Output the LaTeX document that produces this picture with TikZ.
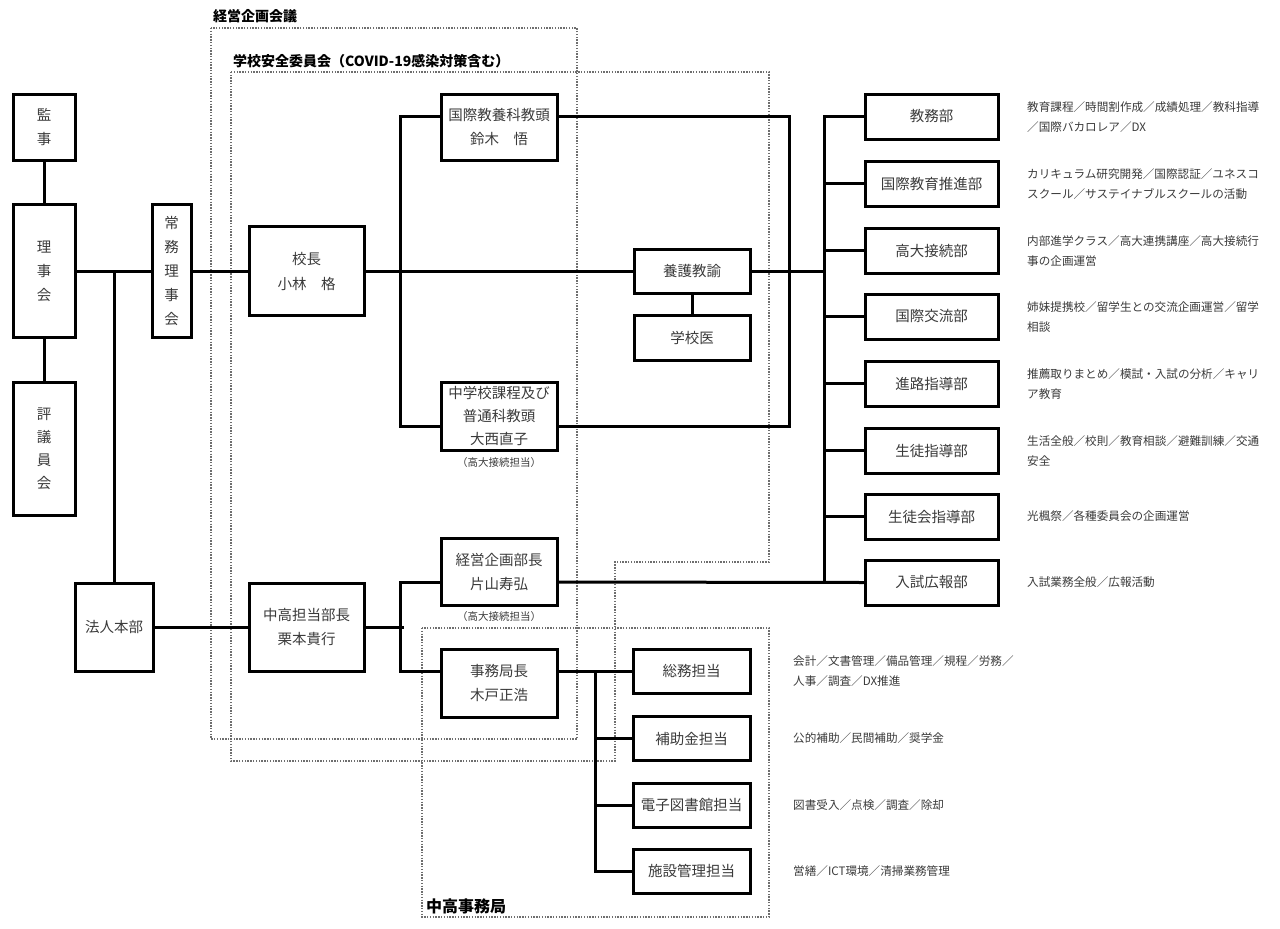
\documentclass[tikz,border=0pt]{standalone}
\usepackage{fontspec}
\setmainfont{Noto Sans CJK JP}
\usetikzlibrary{calc}
\definecolor{tx}{HTML}{3A3A3A}
\definecolor{dsh}{HTML}{6E6E6E}
\begin{document}
\begin{tikzpicture}[x=1pt,y=-1pt,
  box/.style={draw, line width=3pt, inner sep=0pt, align=center, text=tx,
    font=\fontsize{14.5}{24}\selectfont},
  rbox/.style={box, minimum width=133pt, minimum height=45pt},
  sbox/.style={box, minimum width=117pt, minimum height=44pt},
  conn/.style={line width=3pt},
  dbox/.style={draw=dsh, line width=1.1pt, dash pattern=on 1.4pt off 1.4pt},
  desc/.style={anchor=west, align=left, inner sep=0pt, text=tx,
    font=\fontsize{11.6}{20}\selectfont},
  note/.style={inner sep=0pt, text=tx, font=\fontsize{10.5}{12}\selectfont},
  ttl/.style={anchor=west, inner sep=0pt, font=\bfseries\fontsize{14}{16}\selectfont}]
\useasboundingbox (0,0) rectangle (1280,929);

% dashed groups
\draw[dbox] (211,28) rectangle (577,739);
\draw[dbox] (231,72) -- (769,72) -- (769,562) -- (615,562) -- (615,761) -- (231,761) -- cycle;
\draw[dbox] (422,628) rectangle (769,917);
\node[ttl] (t1) at (213,16) {経営企画会議};
\node[ttl] (t2) at (233,61) {学校安全委員会{\fontsize{14}{16}\selectfont（COVID-19感染対策含む）}};
\node[ttl,font=\bfseries\fontsize{16}{18}\selectfont] (t3) at (426,906) {中高事務局};

% left column
\node[box, minimum width=62pt, minimum height=66pt] (kanji) at (44,127) {監\\事};
\node[box, minimum width=62pt, minimum height=133pt] (rijikai) at (44,271) {理\\事\\会};
\node[box, minimum width=62pt, minimum height=133pt, font=\fontsize{14.5}{23}\selectfont] (hyogiin) at (44,449) {評\\議\\員\\会};
\node[box, minimum width=39pt, minimum height=133pt] (jomu) at (171.5,271) {常\\務\\理\\事\\会};
\node[box, minimum width=78pt, minimum height=88pt] (hojin) at (114,627) {法人本部};
\coordinate (xF) at (114,0);

% middle
\node[box, minimum width=115pt, minimum height=89pt, font=\fontsize{14.5}{25}\selectfont] (kocho) at (306.5,271) {校長\\小林　格};
\node[box, minimum width=115pt, minimum height=88pt] (chuko) at (306.5,627) {中高担当部長\\栗本貴行};
\node[box, minimum width=116pt, minimum height=66pt] (kk) at (499,127) {国際教養科教頭\\鈴木　悟};
\node[box, minimum width=116pt, minimum height=68pt, font=\fontsize{14.5}{23}\selectfont] (chugaku) at (499,416) {中学校課程及び\\普通科教頭\\大西直子};
\node[note] (n1) at (499,463) {（高大接続担当）};
\node[box, minimum width=116pt, minimum height=67pt] (keiei) at (499,572) {経営企画部長\\片山寿弘};
\node[note] (n2) at (499,617) {（高大接続担当）};
\node[box, minimum width=116pt, minimum height=68pt] (jimu) at (499,683) {事務局長\\木戸正浩};
\node[box, minimum width=116pt, minimum height=44pt] (yogo) at (692,271) {養護教諭};
\node[box, minimum width=116pt, minimum height=45pt] (gakkoi) at (692,337.5) {学校医};

% office staff
\node[sbox] (somu) at (691.5,671) {総務担当};
\node[sbox] (hojo) at (691.5,738.5) {補助金担当};
\node[sbox] (denshi) at (691.5,805) {電子図書館担当};
\node[sbox] (shisetsu) at (691.5,871) {施設管理担当};
\coordinate (xE) at (595,0);

% right column
\node[rbox] (kyomu) at (931.5,116.5) {教務部};
\node[rbox] (kokuiku) at (931.5,183.5) {国際教育推進部};
\node[rbox] (kodai) at (931.5,250.5) {高大接続部};
\node[rbox] (koryu) at (931.5,316.5) {国際交流部};
\node[rbox] (shinro) at (931.5,383.5) {進路指導部};
\node[rbox] (seito) at (931.5,450.5) {生徒指導部};
\node[rbox] (seitokai) at (931.5,516.5) {生徒会指導部};
\node[rbox] (nyushi) at (931.5,582.5) {入試広報部};
\coordinate (xC) at (826,0);

% descriptions
\node[desc] (d1) at (1027,117) {教育課程／時間割作成／成績処理／教科指導\\／国際バカロレア／DX};
\node[desc] (d2) at (1027,184) {カリキュラム研究開発／国際認証／ユネスコ\\スクール／サステイナブルスクールの活動};
\node[desc] (d3) at (1027,251) {内部進学クラス／高大連携講座／高大接続行\\事の企画運営};
\node[desc] (d4) at (1027,317) {姉妹提携校／留学生との交流企画運営／留学\\相談};
\node[desc] (d5) at (1027,384) {推薦取りまとめ／模試・入試の分析／キャリ\\ア教育};
\node[desc] (d6) at (1027,451) {生活全般／校則／教育相談／避難訓練／交通\\安全};
\node[desc] (d7) at (1027,516.5) {光楓祭／各種委員会の企画運営};
\node[desc] (d8) at (1027,582.5) {入試業務全般／広報活動};
\node[desc] (d9) at (793,671.5) {会計／文書管理／備品管理／規程／労務／\\人事／調査／DX推進};
\node[desc] (d10) at (793,738.5) {公的補助／民間補助／奨学金};
\node[desc] (d11) at (793,805) {図書受入／点検／調査／除却};
\node[desc] (d12) at (793,871) {営繕／ICT環境／清掃業務管理};

% connectors
\draw[conn] (kanji) -- (rijikai);
\draw[conn] (rijikai) -- (hyogiin);
\draw[conn] (rijikai.east) -- (jomu.west);
\draw[conn] (rijikai.east -| xF) -- (hojin.north);
\draw[conn] (hojin.east) -- (chuko.west);
\draw[conn] (jomu.east) -- (kocho.west);
\draw[conn] (kocho.east) -- (yogo.west);
\draw[conn] ([yshift=11pt]kk.west) -- ++(-39,0) |- ([yshift=-10pt]chugaku.west);
\draw[conn] ([yshift=11pt]kk.east) -- ++(231,0) |- ([yshift=-10pt]chugaku.east);
\draw[conn] (yogo.east) -- (yogo.east -| xC);
\draw[conn] (yogo) -- (gakkoi);
\draw[conn] (kyomu.west) -- ++(-39,0) |- (nyushi.west);
\foreach \b in {kokuiku,kodai,koryu,shinro,seito,seitokai}
  \draw[conn] (\b.west) -- (\b.west -| xC);
\draw[conn] ([yshift=-10pt]keiei.east) -- (nyushi.west);
\draw[conn] (chuko.east) -- ++(38,0);
\draw[conn] ([yshift=-10pt]keiei.west) -- ++(-39,0) |- ([yshift=12pt]jimu.west);
\draw[conn] ([yshift=12pt]jimu.east) -- (somu.west);
\draw[conn] (somu.west -| xE) |- (shisetsu.west);
\draw[conn] (hojo.west) -- (hojo.west -| xE);
\draw[conn] (denshi.west) -- (denshi.west -| xE);
\end{tikzpicture}
\end{document}
